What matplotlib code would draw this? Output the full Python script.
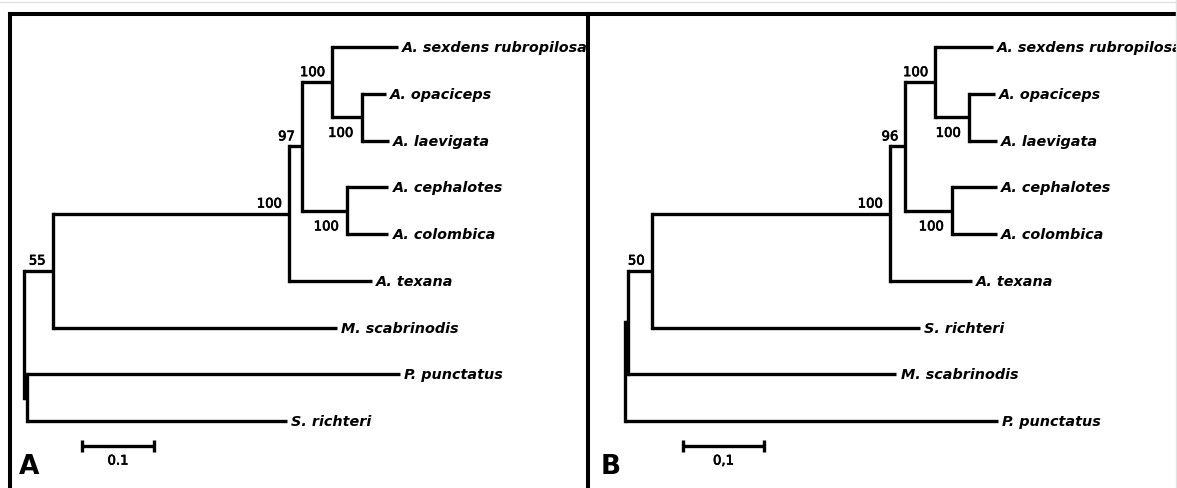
import matplotlib
matplotlib.use("Agg")
import matplotlib.pyplot as plt
from matplotlib.lines import Line2D
import matplotlib.patheffects as pe

# ---------------- data ----------------
# Panel A tree: child, parent, branch length (children listed top -> bottom)
a_child = ["n1", "n7", "n2", "M. scabrinodis", "n3", "A. texana", "n4", "n6",
           "A. sexdens rubropilosa", "n5", "A. opaciceps", "A. laevigata",
           "A. cephalotes", "A. colombica", "P. punctatus", "S. richteri"]
a_parent = ["root", "root", "n1", "n1", "n2", "n2", "n3", "n3",
            "n4", "n4", "n5", "n5", "n6", "n6", "n7", "n7"]
a_length = [0.040, 0.004, 0.328, 0.395, 0.018, 0.115, 0.042, 0.063,
            0.091, 0.041, 0.034, 0.038, 0.057, 0.057, 0.518, 0.361]
a_support = {"n1": 55, "n2": 100, "n3": 97, "n4": 100, "n5": 100, "n6": 100}
a_scale_label = "0.1"
a_panel = "A"

# Panel B tree
b_child = ["m", "P. punctatus", "n1", "M. scabrinodis", "n2", "S. richteri",
           "n3", "A. texana", "n4", "n6", "A. sexdens rubropilosa", "n5",
           "A. opaciceps", "A. laevigata", "A. cephalotes", "A. colombica"]
b_parent = ["root", "root", "m", "m", "n1", "n1", "n2", "n2", "n3", "n3",
            "n4", "n4", "n5", "n5", "n6", "n6"]
b_length = [0.004, 0.460, 0.029, 0.331, 0.294, 0.331, 0.019, 0.101,
            0.037, 0.058, 0.071, 0.042, 0.032, 0.034, 0.055, 0.055]
b_support = {"n1": 50, "n2": 100, "n3": 96, "n4": 100, "n5": 100, "n6": 100}
b_scale_label = "0,1"
b_panel = "B"

scale_length = 0.1

# ---------------- layout ----------------
W, H = 1177, 489
fig = plt.figure(figsize=(W / 100, H / 100), dpi=100)
fig.patch.set_facecolor("white")

LW = 2.4
FRAME_LW = 2.9
HEAVY = [pe.withStroke(linewidth=0.5, foreground="black")]


def draw_tree(ax, child, parent, length, support, scale_label, panel,
              xlim, scale_x0):
    kids = {}
    blen = {}
    for c, p, l in zip(child, parent, length):
        kids.setdefault(p, []).append(c)
        blen[c] = l
    xs = {"root": 0.0}
    ys = {}
    counter = [0]

    def walk(n):
        for c in kids.get(n, []):
            xs[c] = xs[n] + blen[c]
            walk(c)
        if n not in kids:
            ys[n] = counter[0]
            counter[0] += 1
        else:
            ys[n] = (ys[kids[n][0]] + ys[kids[n][-1]]) / 2.0

    walk("root")

    for n, ch in kids.items():
        # vertical connector
        ax.plot([xs[n], xs[n]], [ys[ch[0]], ys[ch[-1]]], color="black",
                lw=LW, solid_capstyle="projecting")
        for i, c in enumerate(ch):
            ax.plot([xs[n], xs[c]], [ys[c], ys[c]], color="black", lw=LW,
                    solid_capstyle="butt")
            if c in support:
                if i == 0:
                    ax.annotate(str(support[c]), (xs[c], ys[c]),
                                xytext=(-5, 4.3), textcoords="offset points",
                                ha="right", va="baseline", fontsize=9.5,
                                path_effects=HEAVY)
                else:
                    ax.annotate(str(support[c]), (xs[c], ys[c]),
                                xytext=(-6, -14.2), textcoords="offset points",
                                ha="right", va="baseline", fontsize=9.5,
                                path_effects=HEAVY)
            if c not in kids:
                ax.annotate(c, (xs[c], ys[c]), xytext=(3, 0),
                            textcoords="offset points", ha="left",
                            va="center", fontsize=10.4, fontweight="bold",
                            fontstyle="italic")

    # scale bar
    sy = 8.53
    ax.plot([scale_x0, scale_x0 + scale_length], [sy, sy], color="black",
            lw=LW, solid_capstyle="butt")
    for sx in (scale_x0, scale_x0 + scale_length):
        ax.plot([sx, sx], [sy - 0.13, sy + 0.13], color="black", lw=LW,
                solid_capstyle="butt")
    ax.annotate(scale_label, (scale_x0 + scale_length / 2, sy),
                xytext=(0, -13.5), textcoords="offset points", ha="center",
                va="baseline", fontsize=9.5, path_effects=HEAVY)

    ax.set_xlim(*xlim)
    ax.set_ylim(9.433, -0.706)
    ax.set_xticks([])
    ax.set_yticks([])
    for s in ("right", "bottom"):
        ax.spines[s].set_visible(False)
    for s in ("left", "top"):
        ax.spines[s].set_linewidth(FRAME_LW)
        ax.spines[s].set_capstyle("projecting")
        ax.spines[s].set_color("black")
    return ax.text(0.016, 0.032, panel, transform=ax.transAxes, fontsize=19,
                   fontweight="bold", ha="left", va="baseline")


top = 474 / H
axA = fig.add_axes([10 / W, 0, 578 / W, top])
axB = fig.add_axes([588 / W, 0, 589 / W, top])
for ax in (axA, axB):
    ax.set_facecolor("none")

draw_tree(axA, a_child, a_parent, a_length, a_support, a_scale_label,
          a_panel, ((10 - 24) / 720, (588 - 24) / 720), 0.0806)
lblB = draw_tree(axB, b_child, b_parent, b_length, b_support, b_scale_label,
                 b_panel, ((588 - 625) / 810, (1177 - 625) / 810), 0.0716)
lblB.set_x(0.022)

# faint outer border of the scanned figure
fig.add_artist(Line2D([0, 1], [1 - 2.5 / H, 1 - 2.5 / H],
                      transform=fig.transFigure, color="#e2e2e2", lw=1))
fig.add_artist(Line2D([1 - 1.5 / W, 1 - 1.5 / W], [0, 1],
                      transform=fig.transFigure, color="#e2e2e2", lw=1))

fig.savefig("out.png", dpi=100, facecolor="white")
